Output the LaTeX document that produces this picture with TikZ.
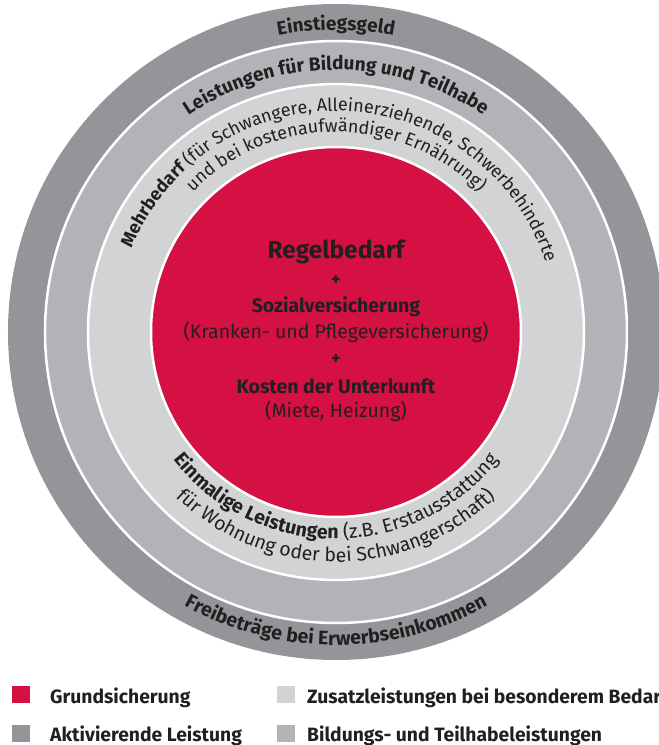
\documentclass[tikz,border=0pt]{standalone}
\usepackage{fontspec}
\setmainfont{Fira Sans}
\usetikzlibrary{decorations.text}
\definecolor{grundrot}{RGB}{213,16,66}
\definecolor{aktivgrau}{RGB}{147,149,152}
\definecolor{bildgrau}{RGB}{177,179,182}
\definecolor{zusatzgrau}{RGB}{209,211,212}
\definecolor{schrift}{RGB}{35,31,32}
\newcommand{\fs}[1]{\fontsize{#1}{#1}\selectfont}
\begin{document}
\begin{tikzpicture}[x = 1pt, y = 1pt,
    ring/.style = {draw = white, line width = 2.5pt},
    bogen/.style = {decorate, decoration = {text along path, text align = center, text color = schrift, text = {#1}}},
    mitte/.style = {anchor = base, text = schrift, inner sep = 0pt},
    legende/.style = {anchor = base west, font = \fs{19.3}\bfseries, text = schrift, inner sep = 0pt},
    kasten/.style = {anchor = south west, minimum width = 18pt, minimum height = 17pt, inner sep = 0pt}]
  \useasboundingbox (-336, -413) rectangle (323, 332);
  \clip (-336, -413) rectangle (323, 332);
  % Ringe
  \fill[aktivgrau] (0, 0) circle (328);
  \draw[ring, fill = bildgrau] (0, 0) circle (291);
  \draw[ring, fill = zusatzgrau] (0, 0) circle (248);
  \draw[ring, fill = grundrot] (0, 0) circle (185);
  % Texte oben
  \path[bogen = {|\fs{19}\bfseries|Einstiegsgeld}] (150 : 302) arc (150 : 30 : 302);
  \path[bogen = {|\fs{19}\bfseries|Leistungen für Bildung und Teilhabe}] (160 : 262) arc (160 : 20 : 262);
  \path[bogen = {|\fs{18}\bfseries|Mehrbedarf |\fs{18}\mdseries|(für Schwangere, Alleinerziehende, Schwerbehinderte}] (183 : 221) arc (183 : -7 : 221);
  \path[bogen = {|\fs{18}|und bei kostenaufwändiger Ernährung)}] (175 : 200) arc (175 : 5 : 200);
  % Texte unten
  \path[bogen = {|\fs{19.5}\bfseries|Einmalige Leistungen |\fs{19.5}\mdseries|(z.B. Erstausstattung}] (185 : 207) arc (185 : 355 : 207);
  \path[bogen = {|\fs{19.5}|für Wohnung oder bei Schwangerschaft)}] (190 : 230) arc (190 : 350 : 230);
  \path[bogen = {|\fs{19.5}\bfseries|Freibeträge bei Erwerbseinkommen}] (200 : 313) arc (200 : 340 : 313);
  % Mitte
  \node[mitte, font = \fs{24.5}\bfseries] (regel) at (0, 74) {Regelbedarf};
  \node[mitte, font = \fs{18}\bfseries] (plus1) at (0, 47) {+};
  \node[mitte, font = \fs{19.5}\bfseries] (sozial) at (0, 20) {Sozialversicherung};
  \node[mitte, font = \fs{19.5}] (kranken) at (0, -6) {(Kranken- und Pflegeversicherung)};
  \node[mitte, font = \fs{18}\bfseries] (plus2) at (0, -32) {+};
  \node[mitte, font = \fs{19.5}\bfseries] (kosten) at (0, -61) {Kosten der Unterkunft};
  \node[mitte, font = \fs{19.5}] (miete) at (0, -85) {(Miete, Heizung)};
  % Legende
  \node[kasten, fill = grundrot] (k1) at (-324, -371) {};
  \node[legende] (l1) at (-286, -371) {Grundsicherung};
  \node[kasten, fill = aktivgrau] (k2) at (-324, -410) {};
  \node[legende] (l2) at (-286, -409) {Aktivierende Leistung};
  \node[kasten, fill = zusatzgrau] (k3) at (-59, -371) {};
  \node[legende] (l3) at (-29, -371) {Zusatzleistungen bei besonderem Bedarf};
  \node[kasten, fill = bildgrau] (k4) at (-59, -410) {};
  \node[legende] (l4) at (-29, -409) {Bildungs- und Teilhabeleistungen};
\end{tikzpicture}
\end{document}
